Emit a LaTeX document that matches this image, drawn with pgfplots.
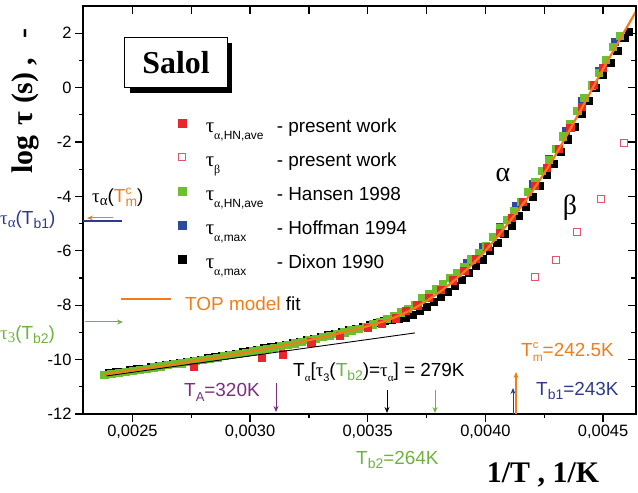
\documentclass[border=0pt]{standalone}
\usepackage{fontspec}
\setmainfont{Liberation Sans}
\newfontfamily\tnr{Liberation Serif}
\usepackage{pgfplots}
\pgfplotsset{compat=1.18}
\usetikzlibrary{arrows.meta}
\definecolor{cred}{HTML}{E8262B}
\definecolor{cgreen}{HTML}{6CBF2E}
\definecolor{cblue}{HTML}{2E4A9E}
\definecolor{corange}{HTML}{F07D1A}
\definecolor{cpink}{HTML}{E0566A}
\definecolor{cpurple}{HTML}{7B2D7E}
\definecolor{tblue}{HTML}{2E3A8E}
\definecolor{tgreen}{HTML}{6DB33F}
\newcommand{\fs}[1]{\fontsize{#1}{#1}\selectfont}
\newcommand{\tauL}[1]{{\tnr\fs{21}τ}\raisebox{-7bp}{\fs{12}#1}}
\newcommand{\lo}[1]{\raisebox{-4bp}{\fs{14}#1}}
\begin{document}
\begin{tikzpicture}[>={Stealth[length=6bp,width=5bp]}]
\useasboundingbox (0bp,0bp) rectangle (638bp,493bp);
\begin{axis}[
  at={(83bp,79bp)}, anchor=south west,
  scale only axis, width=553bp, height=408bp,
  xmin=0.00229, xmax=0.00464, ymin=-12, ymax=3,
  clip marker paths=true,
  xtick={0.0025,0.003,0.0035,0.004,0.0045},
  xticklabels={{0,0025},{0,0030},{0,0035},{0,0040},{0,0045}},
  minor xtick={0.00275,0.00325,0.00375,0.00425},
  ytick={-12,-10,-8,-6,-4,-2,0,2},
  yticklabels={-12,-10,-8,-6,-4,-2,0,2},
  minor ytick={-11,-9,-7,-5,-3,-1,1},
  scaled x ticks=false,
  xtick pos=left, ytick pos=left, tick align=outside,
  major tick length=8bp, minor tick length=4bp,
  every tick/.style={line width=1.2bp, black},
  axis line style={line width=1.3bp},
  tick label style={font=\fs{16.5}},
  legend image code/.code={\draw[#1] plot coordinates {(0bp,5bp)};},
  legend cell align=left,
  legend style={at={(axis description cs:0.1725,0.7255)}, anchor=north west,
    draw=none, fill=none, inner sep=0pt, row sep=14bp, column sep=20bp,
    nodes={inner sep=0pt, text height=14bp, text depth=6bp}, font=\fs{19}},
]
\addlegendimage{only marks, mark=square*, mark size=3.6pt, color=cred}
\addlegendentry{\makebox[71bp][l]{\tauL{{\tnr α},HN,ave}}- present work}
\addlegendimage{only marks, mark=square, mark size=3.4pt, color=cpink, line width=0.9bp}
\addlegendentry{\makebox[71bp][l]{\tauL{\tnr β}}- present work}
\addlegendimage{only marks, mark=square*, mark size=3.6pt, color=cgreen}
\addlegendentry{\makebox[71bp][l]{\tauL{{\tnr α},HN,ave}}- Hansen 1998}
\addlegendimage{only marks, mark=square*, mark size=3.6pt, color=cblue}
\addlegendentry{\makebox[71bp][l]{\tauL{{\tnr α},max}}- Hoffman 1994}
\addlegendimage{only marks, mark=square*, mark size=3.6pt, color=black}
\addlegendentry{\makebox[71bp][l]{\tauL{{\tnr α},max}}- Dixon 1990}
% Dixon 1990
\addplot[forget plot, only marks, mark=square*, mark size=3.6pt, color=black] coordinates {
(0.00240,-10.50) (0.00243,-10.46) (0.00246,-10.43) (0.00249,-10.39) (0.00252,-10.35)
(0.00255,-10.32) (0.00258,-10.28) (0.00261,-10.24) (0.00264,-10.20) (0.00267,-10.16)
(0.00270,-10.12) (0.00273,-10.08) (0.00276,-10.04) (0.00279,-9.99) (0.00282,-9.95)
(0.00285,-9.91) (0.00288,-9.87) (0.00291,-9.82) (0.00294,-9.78) (0.00297,-9.73)
(0.00300,-9.68) (0.00303,-9.63) (0.00306,-9.58) (0.00309,-9.53) (0.00312,-9.48)
(0.00315,-9.44) (0.00318,-9.39) (0.00321,-9.33) (0.00324,-9.27) (0.00327,-9.22)
(0.00330,-9.16) (0.00333,-9.10) (0.00336,-9.04) (0.00339,-8.98) (0.00342,-8.92)
(0.00345,-8.85) (0.00348,-8.78) (0.00351,-8.71) (0.00354,-8.64) (0.00357,-8.57)
(0.00360,-8.52) (0.00363,-8.50)
(0.00366,-8.45) (0.00369,-8.36) (0.00372,-8.21) (0.00375,-8.05) (0.00378,-7.88)
(0.00381,-7.70) (0.00384,-7.49) (0.00387,-7.28) (0.00390,-7.07) (0.00393,-6.82)
(0.00396,-6.56) (0.00399,-6.31) (0.00402,-6.01) (0.00405,-5.70) (0.00408,-5.38)
(0.00411,-5.06) (0.00414,-4.71) (0.00417,-4.37) (0.00420,-4.02) (0.00423,-3.62)
(0.00426,-3.21) (0.00429,-2.81) (0.00432,-2.36) (0.00435,-1.90) (0.00438,-1.43)
(0.00441,-0.96) (0.00444,-0.49) (0.00447,-0.01) (0.00450,0.46) (0.00453,0.92)
(0.00456,1.37) (0.00459,1.83) (0.00461,2.05)};
% Hoffman 1994
\addplot[forget plot, only marks, mark=square*, mark size=3.6pt, color=cblue] coordinates {
(0.00392,-6.43) (0.00399,-5.84) (0.00406,-5.12) (0.00413,-4.36) (0.00420,-3.55)
(0.00427,-2.60) (0.00434,-1.58) (0.00441,-0.49) (0.00448,0.61) (0.00455,1.69)};
% Hansen 1998
\addplot[forget plot, only marks, mark=square*, mark size=3.6pt, color=cgreen] coordinates {
(0.00238,-10.54) (0.00241,-10.51) (0.00244,-10.48) (0.00247,-10.44) (0.00250,-10.40)
(0.00253,-10.36) (0.00256,-10.32) (0.00259,-10.28) (0.00262,-10.24) (0.00265,-10.20)
(0.00268,-10.16) (0.00271,-10.13) (0.00274,-10.08) (0.00277,-10.04) (0.00280,-10.00)
(0.00283,-9.96) (0.00286,-9.92) (0.00289,-9.87) (0.00292,-9.83) (0.00295,-9.79)
(0.00298,-9.74) (0.00301,-9.69) (0.00304,-9.65) (0.00307,-9.60) (0.00310,-9.55)
(0.00313,-9.50) (0.00316,-9.45) (0.00319,-9.40) (0.00322,-9.34) (0.00325,-9.28)
(0.00328,-9.23) (0.00331,-9.17) (0.00334,-9.11) (0.00337,-9.05) (0.00340,-8.99)
(0.00343,-8.92) (0.00346,-8.86) (0.00349,-8.79) (0.00352,-8.70) (0.00355,-8.60)
(0.00358,-8.50) (0.00361,-8.40) (0.00364,-8.26) (0.00367,-8.13) (0.00370,-7.98)
(0.00373,-7.74) (0.00376,-7.57) (0.00379,-7.41) (0.00382,-7.21) (0.00385,-7.00)
(0.00388,-6.79) (0.00391,-6.57) (0.00394,-6.31) (0.00397,-6.06) (0.00400,-5.80)
(0.00403,-5.49) (0.00406,-5.17) (0.00409,-4.86) (0.00412,-4.52) (0.00415,-4.18)
(0.00418,-3.83) (0.00421,-3.47) (0.00424,-3.06) (0.00427,-2.66) (0.00430,-2.25)
(0.00433,-1.79) (0.00436,-1.32) (0.00439,-0.86) (0.00442,-0.38) (0.00445,0.09)
(0.00448,0.56) (0.00451,1.03) (0.00454,1.49) (0.00457,1.90)};
% present work alpha
\addplot[forget plot, only marks, mark=square*, mark size=3.6pt, color=cred] coordinates {
(0.00276,-10.27) (0.00305,-9.92) (0.00314,-9.80) (0.00326,-9.36) (0.00338,-9.12)
(0.00350,-8.82) (0.00356,-8.68) (0.00362,-8.48) (0.00366,-8.21) (0.00371,-8.00)
(0.00376,-7.72) (0.00381,-7.43) (0.00386,-7.08) (0.00391,-6.72) (0.00396,-6.29)
(0.00401,-5.85) (0.00406,-5.32) (0.00411,-4.79) (0.00416,-4.21) (0.00421,-3.62)
(0.00426,-2.94) (0.00431,-2.25) (0.00436,-1.47) (0.00441,-0.69) (0.00446,0.10)
(0.00450,0.73)};
% present work beta
\addplot[forget plot, only marks, mark=square, mark size=3.4pt, color=cpink, line width=0.9bp] coordinates {
(0.00421,-6.97) (0.00430,-6.35) (0.00439,-5.30) (0.00449,-4.08) (0.00459,-2.03)};
% Arrhenius line
\addplot[forget plot, black, line width=0.9bp] coordinates {(0.00239,-10.60) (0.00370,-9.02)};
% TOP model fit
\addplot[forget plot, corange, line width=2.2bp, smooth] coordinates {
(0.00238,-10.54) (0.00250,-10.40) (0.00260,-10.27) (0.00270,-10.14) (0.00280,-10.00)
(0.00290,-9.86) (0.00300,-9.71) (0.00310,-9.55) (0.00320,-9.38) (0.00330,-9.19)
(0.00340,-8.99) (0.00350,-8.77) (0.00360,-8.50) (0.00370,-8.10) (0.00380,-7.55)
(0.00390,-6.85) (0.00400,-6.00) (0.00410,-4.95) (0.00420,-3.80) (0.00430,-2.45)
(0.00440,-0.90) (0.00450,0.68) (0.00460,2.20) (0.00465,2.95)};
\end{axis}
\begin{axis}[
  at={(83bp,79bp)}, anchor=south west,
  scale only axis, width=553bp, height=408bp,
  xmin=0.00229, xmax=0.00464, ymin=-12, ymax=3,
  xtick={0.0025,0.00275,0.003,0.00325,0.0035,0.00375,0.004,0.00425,0.0045},
  ytick={-12,-10,-8,-6,-4,-2,0,2},
  minor ytick={-11,-9,-7,-5,-3,-1,1},
  xticklabels={}, yticklabels={},
  scaled x ticks=false,
  xtick pos=right, ytick pos=right, tick align=inside,
  major tick length=8bp, minor tick length=5bp,
  every tick/.style={line width=1.2bp, black},
  axis line style={line width=1.3bp},
  legend image code/.code={\draw[#1] (0bp,7bp) -- (50bp,7bp);},
  legend style={at={(axis description cs:0.0669,0.2892)}, anchor=north west,
    draw=none, fill=none, inner sep=0pt, column sep=13bp,
    nodes={inner sep=0pt, text height=14bp, text depth=5bp}, font=\fs{19}},
]
\addlegendimage{corange, line width=2bp}
\addlegendentry{{\color{corange}TOP model} fit}
\end{axis}
\begin{scope}[x=1bp,y=1bp]
% Salol box
\fill[black] (130,400) rectangle (232,450);
\node[draw, line width=1bp, fill=white, minimum width=102bp, minimum height=50bp, inner sep=0pt] at (176,430) {\tnr\bfseries\fs{32}Salol};
% alpha, beta
\node at (503,318) {\tnr\fs{28}α};
\node at (570,285) {\tnr\fs{28}β};
% left annotations
\node[anchor=west, inner sep=0pt] at (92,296) {\fs{19}{\tnr τ\raisebox{-3bp}{\fs{15}α}}(\textcolor{corange}{T\rlap{\raisebox{8bp}{\fs{12}c}}\raisebox{-4bp}{\fs{14}m}})};
\draw[->, corange, line width=1bp] (113,275) -- (87,275);
\draw[tblue, line width=1.2bp] (83,272) -- (122,272);
\node[anchor=west, inner sep=0pt, text=tblue] at (0,273) {\fs{19}{\tnr τ\raisebox{-3bp}{\fs{15}α}}(T\lo{b1})};
\node[anchor=west, inner sep=0pt, text=tgreen] at (0,158) {\fs{19}{\tnr τ\raisebox{-3bp}{\fs{15}3}}(T\lo{b2})};
\draw[->, tgreen, line width=1bp] (85,171) -- (123,171);
% bottom annotations
\node[anchor=west, inner sep=0pt, text=cpurple] at (184,101) {\fs{19}T\raisebox{-5bp}{\fs{13}A}=320K};
\draw[->, cpurple, line width=1bp] (276,110) -- (276,81);
\node[anchor=west, inner sep=0pt] at (293,121) {\fs{19}T\raisebox{-5bp}{\fs{11}{\tnr α}}[{\tnr τ}\raisebox{-5bp}{\fs{11}3}(\textcolor{tgreen}{T\lo{b2}})={\tnr τ}\raisebox{-5bp}{\fs{11}{\tnr α}}] = 279K};
\draw[->, black, line width=1bp] (387,103) -- (387,80);
\draw[->, tgreen, line width=1bp] (435,103) -- (435,80);
\draw[->, tblue, line width=1bp] (513,79) -- (513,105);
\draw[->, corange, line width=1.2bp] (516,79) -- (516,121);
\node[anchor=west, inner sep=0pt, text=corange] at (521,141) {\fs{19}T\rlap{\raisebox{8bp}{\fs{11}c}}\raisebox{-5bp}{\fs{12}m}=242.5K};
\node[anchor=west, inner sep=0pt, text=tblue] at (536,102) {\fs{19}T\lo{b1}=243K};
\node[anchor=west, inner sep=0pt, text=tgreen] at (356,33) {\fs{19}T\lo{b2}=264K};
% axis titles
\node at (543,18) {\tnr\bfseries\fs{30}1/T , 1/K};
\node[rotate=90] at (25,392) {\tnr\bfseries\fs{30}log\hspace{10bp}τ\hspace{8bp}(s)\hspace{7bp},\hspace{20bp}-};
\end{scope}
\end{tikzpicture}
\end{document}
